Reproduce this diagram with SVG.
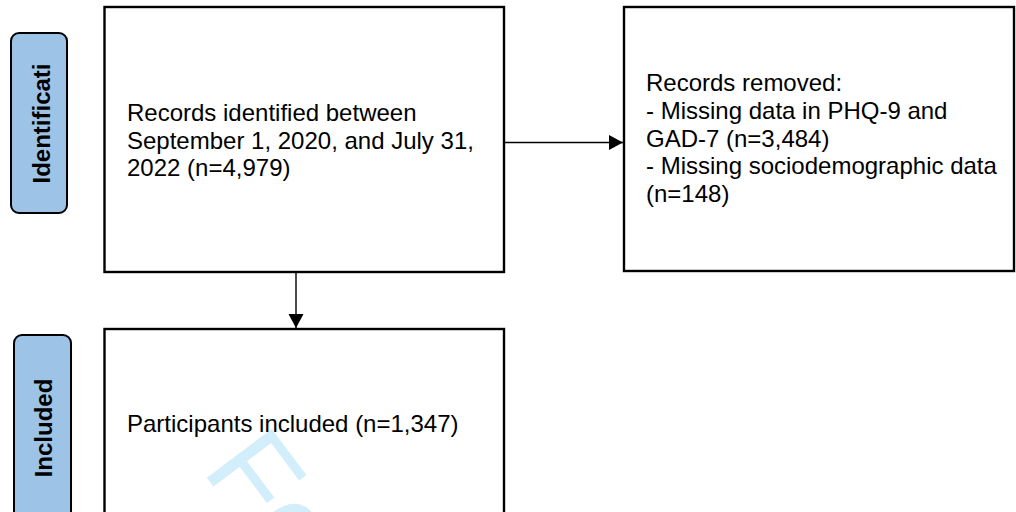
<svg xmlns="http://www.w3.org/2000/svg" width="1016" height="512" viewBox="0 0 1016 512">
  <style>
    .box { fill: none; stroke: #000; stroke-width: 2.4; }
    .lbl { fill: #9dc3e6; stroke: #000; stroke-width: 2; }
    .t { font-family: "Liberation Sans", Arial, sans-serif; font-size: 24px; fill: #000; }
    .tb { font-family: "Liberation Sans", Arial, sans-serif; font-size: 24px; font-weight: bold; fill: #000; text-anchor: middle; }
    .wm { font-family: "Liberation Sans", Arial, sans-serif; font-size: 118px; fill: #d3eefb; }
    .conn { stroke: #000; stroke-width: 1.4; fill: none; }
  </style>
  <defs>
    <marker id="arr" markerUnits="userSpaceOnUse" markerWidth="15" markerHeight="16" refX="14" refY="7.5" orient="auto">
      <path d="M0,0 L14,7.5 L0,15 Z" fill="#000"/>
    </marker>
  </defs>
  <rect width="1016" height="512" fill="#fff"/>

  <text class="wm" transform="translate(201,470) rotate(53)">Fo</text>

  <g id="label-identification">
    <rect class="lbl" x="11" y="33" width="56" height="180" rx="8"/>
    <text class="tb" transform="translate(50,123.5) rotate(-90)">Identificati</text>
  </g>
  <g id="label-included">
    <rect class="lbl" x="14" y="335" width="57" height="190" rx="8"/>
    <text class="tb" transform="translate(51.5,428) rotate(-90)">Included</text>
  </g>

  <g id="node-identified">
    <rect class="box" x="104.5" y="7" width="399.5" height="265"/>
    <text class="t" x="127" y="121">Records identified between</text>
    <text class="t" x="127" y="148.6">September 1, 2020, and July 31,</text>
    <text class="t" x="127" y="176.2">2022 (n=4,979)</text>
  </g>

  <g id="node-removed">
    <rect class="box" x="624" y="7" width="390" height="264"/>
    <text class="t" x="646" y="91.3">Records removed:</text>
    <text class="t" x="646" y="118.9">- Missing data in PHQ-9 and</text>
    <text class="t" x="646" y="146.5">GAD-7 (n=3,484)</text>
    <text class="t" x="646" y="174.1">- Missing sociodemographic data</text>
    <text class="t" x="646" y="201.7">(n=148)</text>
  </g>

  <g id="node-included">
    <rect class="box" x="104.5" y="329" width="399.5" height="200"/>
    <text class="t" x="127" y="431.7">Participants included (n=1,347)</text>
  </g>

  <g id="connectors">
    <line class="conn" x1="505" y1="142.5" x2="623" y2="142.5" marker-end="url(#arr)"/>
    <line class="conn" x1="296" y1="273" x2="296" y2="328" marker-end="url(#arr)"/>
  </g>
</svg>
